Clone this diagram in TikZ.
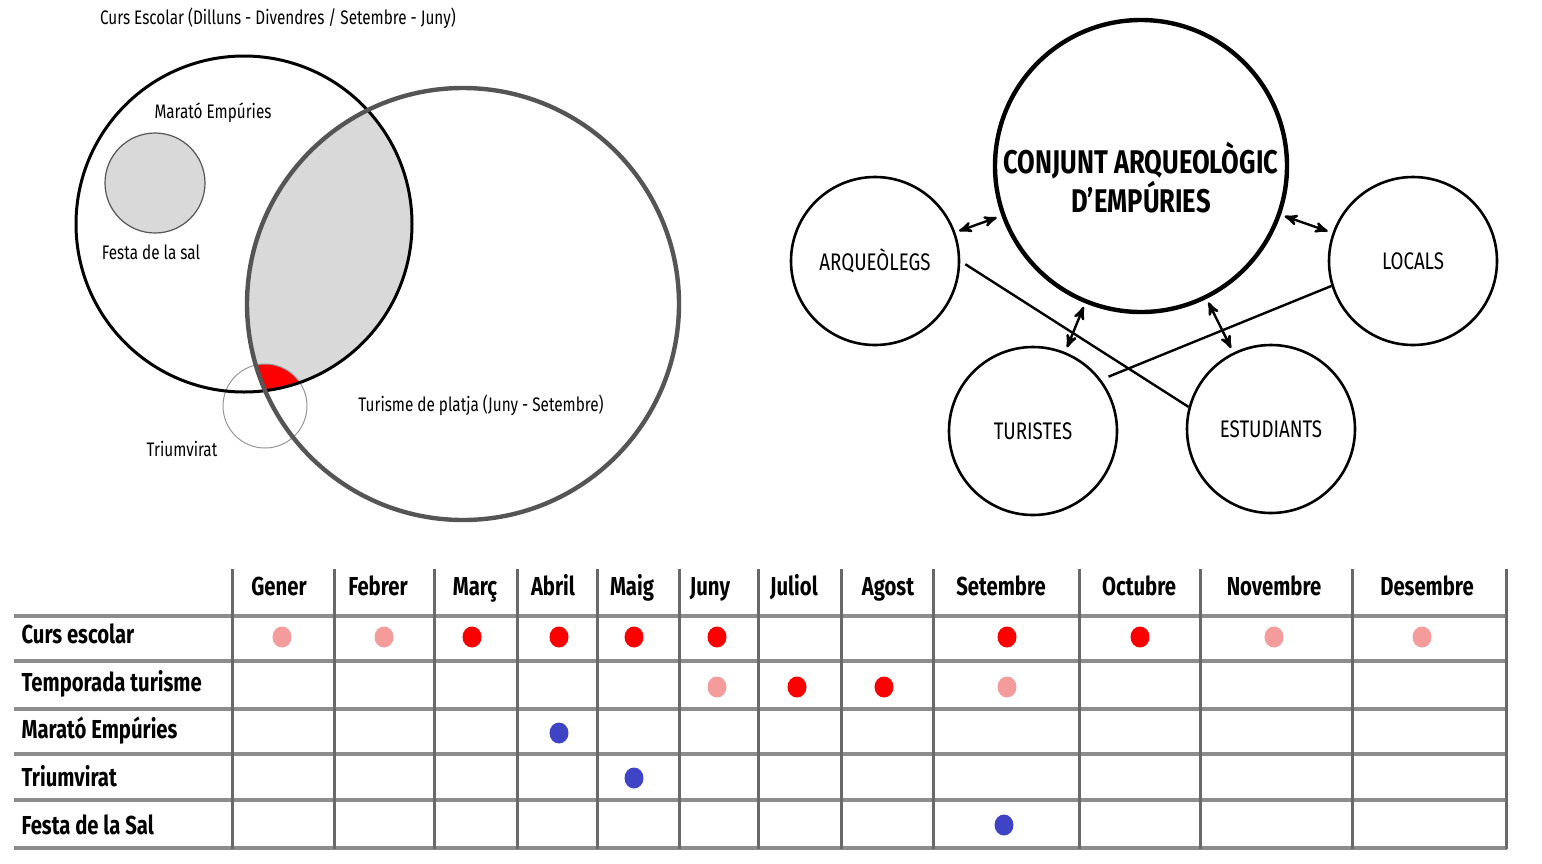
\documentclass[tikz,border=0pt]{standalone}
\usepackage{fontspec}
\setmainfont{Fira Sans}[FakeStretch=0.78]
\usepackage{tikz}
\usetikzlibrary{arrows,positioning}

\definecolor{lensgray}{RGB}{217,217,217}
\definecolor{ringgray}{RGB}{85,85,85}
\definecolor{thingray}{RGB}{150,150,150}
\definecolor{gridgray}{RGB}{140,140,140}
\definecolor{colgray}{RGB}{105,105,105}
\definecolor{dotred}{RGB}{250,0,0}
\definecolor{dotpink}{RGB}{244,156,156}
\definecolor{dotblue}{RGB}{62,68,196}

\begin{document}
\begin{tikzpicture}[x=0.5pt,y=-0.5pt,>=stealth',semithick]
\tikzstyle{every node}=[text=black,inner sep=1pt]
\tikzstyle{group}=[circle,draw=black,line width=1.3pt,minimum size=84pt,font=\fontsize{12pt}{14}\selectfont]
\tikzstyle{vennlabel}=[font=\fontsize{9.8pt}{12}\selectfont]
\tikzstyle{month}=[font=\bfseries\fontsize{13pt}{15}\selectfont,anchor=base]
\tikzstyle{rowlabel}=[font=\bfseries\fontsize{13pt}{15}\selectfont,anchor=base west]

\useasboundingbox (0,0) rectangle (1542,863);

        % venn: curs escolar / turisme / events
        \fill[lensgray] (155,183) circle[radius=50];
        \begin{scope}
            \clip (244,224) circle[radius=168];
            \fill[lensgray] (463,304) circle[radius=216];
            \clip (463,304) circle[radius=216];
            \fill[red] (265,406) circle[radius=42];
        \end{scope}
        \draw[ringgray, line width=0.6pt] (155,183) circle[radius=50];
        \draw[thingray, line width=0.5pt] (265,406) circle[radius=42];
        \draw[black, line width=1.5pt] (244,224) circle[radius=168];
        \draw[ringgray, line width=2.2pt] (463,304) circle[radius=216];

        \node[vennlabel] (curs)    at (278,18)  {Curs Escolar (Dilluns - Divendres / Setembre - Juny)};
        \node[vennlabel] (marato)  at (213,113) {Marató Empúries};
        \node[vennlabel] (festa)   at (151,252) {Festa de la sal};
        \node[vennlabel] (triumv)  at (182,449) {Triumvirat};
        \node[vennlabel] (platja)  at (481,405) {Turisme de platja (Juny - Setembre)};

        % actors
        \node[group, minimum size=146pt, line width=2.2pt,
              label={[align=center, yshift=-6pt, font=\bfseries\fontsize{16.4pt}{17}\selectfont]center:CONJUNT ARQUEOLÒGIC\\D’EMPÚRIES}]
              (conj) at (1141,166) {};
        \node[group] (arq)    at (875,261)  {ARQUEÒLEGS};
        \node[group] (locals) at (1413,261) {LOCALS};
        \node[group] (tur)    at (1033,431) {TURISTES};
        \node[group] (estud)  at (1271,429) {ESTUDIANTS};

        \path[<->, line width=1.2pt, shorten >=2.5pt, shorten <=2pt]
        (arq)    edge node {}  (conj)
        (conj)   edge node {}  (locals)
        (conj)   edge node {}  (tur)
        (conj)   edge node {}  (estud)
        ; %end path

        \path[line width=1.2pt]
        (arq.east)    edge[shorten <=3pt]  (estud.165)
        (locals.197)  edge[shorten >=4pt]  (tur.37)
        ; %end path

        % calendar
        \foreach \y in {616,661,709,754,800,848}
            \draw[gridgray, line width=2pt] (14,\y) -- (1507,\y);
        \foreach \x in {232,334,434,517,597,679,758,841,933,1079,1200,1352,1506}
            \draw[colgray, line width=1.5pt] (\x,569) -- (\x,849);

        \foreach \x/\name [count=\i] in {279/Gener,378/Febrer,475/Març,553/Abril,632/Maig,710/Juny,
                                         794/Juliol,888/Agost,1001/Setembre,1139/Octubre,1274/Novembre,1427/Desembre}
            \node[month] (m\i) at (\x,595) {\name};

        \node[rowlabel] (r1) at (19,643) {Curs escolar};
        \node[rowlabel] (r2) at (19,691) {Temporada turisme};
        \node[rowlabel] (r3) at (19,738) {Marató Empúries};
        \node[rowlabel] (r4) at (19,786) {Triumvirat};
        \node[rowlabel] (r5) at (19,834) {Festa de la Sal};

        \foreach \x/\y/\c in {282/637/dotpink,384/637/dotpink,472/637/dotred,559/637/dotred,
                              634/637/dotred,717/637/dotred,1007/637/dotred,1140/637/dotred,
                              1274/637/dotpink,1422/637/dotpink,
                              717/687/dotpink,797/687/dotred,884/687/dotred,1007/687/dotpink,
                              559/733/dotblue,634/778/dotblue,1004/825/dotblue}
            \fill[\c] (\x,\y) ellipse[x radius=9.5, y radius=10.5];

\end{tikzpicture}
\end{document}
